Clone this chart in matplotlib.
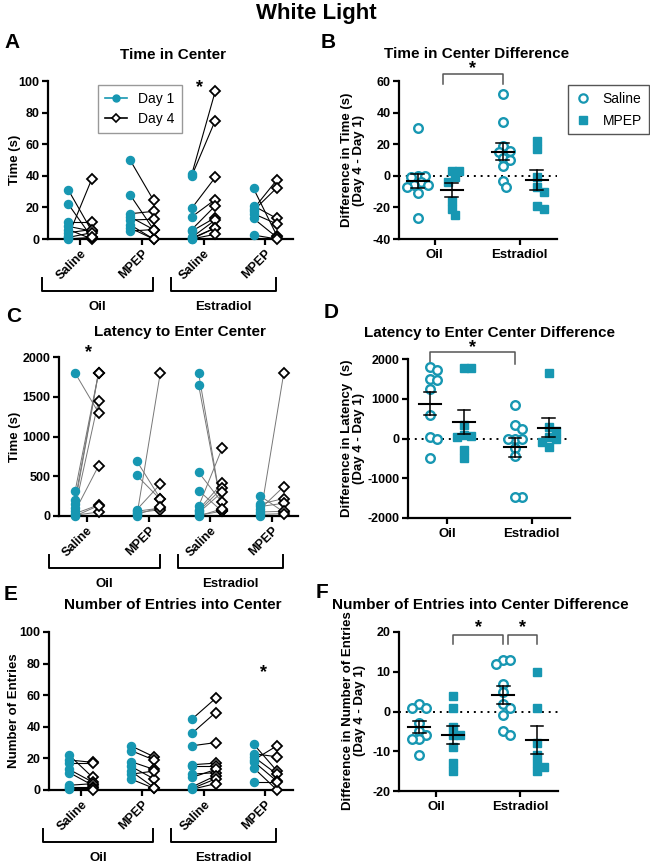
import numpy as np
import matplotlib
matplotlib.use("Agg")
import matplotlib.pyplot as plt
from matplotlib.lines import Line2D

plt.rcParams['font.family'] = ['Liberation Sans', 'DejaVu Sans']
plt.rcParams['font.weight'] = 'bold'
plt.rcParams['axes.labelweight'] = 'bold'
plt.rcParams['axes.unicode_minus'] = False

TEAL = '#1797b2'
W, H = 650, 864

group_labels = ['Saline', 'MPEP', 'Saline', 'MPEP']
hormones = ['Oil', 'Estradiol']
drugs = ['Saline', 'MPEP']

# A: time in center (s); groups = Oil-Saline, Oil-MPEP, E2-Saline, E2-MPEP
time_day1 = [[31, 22, 11, 8, 6, 4, 2, 1, 0.5, 0],
             [50, 28, 16, 14, 12, 9, 7, 5],
             [41, 40, 19.5, 14, 6, 5, 1, 0.5, 0, 0],
             [32, 21, 19, 18, 16, 13, 2.5]]
time_day4 = [[5, 1, 11, 5, 0, 6, 38, 4, 0.5, 1],
             [24.5, 6, 17.5, 6, 12.5, 0, 0, 6],
             [93.5, 75, 39, 25, 21, 13.5, 12, 7, 7, 3],
             [2, 13, 37.5, 32.5, 9.5, 1, 0]]

# B: time difference (Day 4 - Day 1); [hormone][drug]
time_diff = [[[30, 0, 0, -1, -4, -6, -6, -7, -11, -27],
              [3, 3, -1, -4, -16, -21, -25]],
             [[52, 34, 19, 16, 15, 11, 10, 6, -3, -7],
              [22, 17, -1, -10, -7, -19, -21]]]

# C: latency to enter center (s)
lat_day1 = [[1800, 310, 200, 150, 100, 60, 30, 10, 0],
            [690, 510, 80, 60, 40, 20, 0],
            [1800, 1650, 550, 320, 120, 80, 60, 40, 10, 0],
            [250, 150, 120, 90, 50, 20, 0]]
lat_day4 = [[1300, 1800, 1800, 1800, 1450, 630, 140, 50, 130],
            [220, 210, 400, 100, 80, 110, 1800],
            [70, 80, 170, 60, 850, 410, 350, 300, 60, 90],
            [50, 220, 160, 370, 60, 30, 1800]]

# D: latency difference
lat_diff = [[[1800, 1720, 1500, 1470, 1250, 600, 30, 0, -500],
             [1780, 1780, 350, 80, 60, 50, -300, -480]],
            [[850, 330, 250, 0, -10, 0, -250, -450, -1480, -1470],
             [1650, 300, 200, 50, 0, -80, -220]]]

# E: number of entries into center
ent_day1 = [[22, 19, 17, 13, 11, 3, 2, 1, 0.5],
            [28, 25, 18, 15, 12, 10, 7],
            [45, 36, 28, 16, 15, 10, 8, 2, 1, 0.5],
            [29, 23, 21, 19, 18, 14, 5]]
ent_day4 = [[8, 17.5, 17, 5, 3, 4, 2, 1, 0],
            [21, 19, 13, 7, 1.5, 12, 1],
            [58, 49, 30, 17, 15, 11, 13, 9, 7, 4],
            [12, 21, 10, 28, 5.5, 0, 5]]

# F: entries difference
ent_diff = [[[2, 1, 1, -3, -5, -6, -7, -7, -11],
             [4, 1, -4, -6, -6, -9, -13, -15]],
            [[13, 13, 12, 7, 5, 2, 1, -1, -5, -6],
             [10, 1, -8, -11, -13, -15, -14]]]

fig = plt.figure(figsize=(W / 100, H / 100), dpi=100)


def px_axes(l, r, t, b):
    return fig.add_axes([l / W, 1 - b / H, (r - l) / W, (b - t) / H])


def style(ax):
    for s in ['top', 'right']:
        ax.spines[s].set_visible(False)
    for s in ['left', 'bottom']:
        ax.spines[s].set_linewidth(1.6)
    ax.tick_params(width=1.6, length=4, labelsize=9, pad=2)
    for lab in ax.get_yticklabels():
        lab.set_fontweight('bold')


def ftext(x, y, s, size, **kw):
    fig.text(x / W, 1 - y / H, s, fontsize=size, fontweight='bold',
             ha='center', va='center', **kw)


def paired(ax, d1, d4, ylim, yticks, line_col, line_w, xlim):
    off = 0.19
    for i in range(4):
        for a, b in zip(d1[i], d4[i]):
            ax.plot([i - off, i + off], [a, b], color=line_col, lw=line_w, zorder=2)
        ax.plot([i - off] * len(d1[i]), d1[i], 'o', ms=5.8, color=TEAL,
                mec=TEAL, clip_on=False, zorder=3)
        ax.plot([i + off] * len(d4[i]), d4[i], 'D', ms=4.6, mfc='white',
                mec='black', mew=1.3, clip_on=False, zorder=4)
    ax.set_ylim(*ylim)
    ax.set_yticks(yticks)
    ax.set_xlim(*xlim)
    ax.set_xticks(range(4))
    ax.set_xticklabels(group_labels, rotation=45, ha='right',
                       rotation_mode='anchor', fontsize=9, fontweight='bold')
    ax.spines['left'].set_bounds(ylim[0], ylim[1])
    style(ax)
    # brackets under the groups
    hpx = ax.get_position().height * H
    tr = ax.get_xaxis_transform()
    for (x0, x1), name in zip([(-0.62, 1.18), (1.47, 3.17)], hormones):
        y0, y1 = -39 / hpx, -52 / hpx
        ax.plot([x0, x0, x1, x1], [y0, y1, y1, y0], color='black', lw=1.4,
                transform=tr, clip_on=False)
        ax.text((x0 + x1) / 2, -68 / hpx, name, transform=tr, ha='center',
                va='center', fontsize=9.5, fontweight='bold')


def swarm_x(vals, center, xpu, ypu, d=7.0):
    vals = np.asarray(vals, float)
    xs = np.zeros(len(vals))
    placed = []
    for i in np.argsort(-vals):
        y = vals[i] * ypu
        for k in [0, 1, -1, 2, -2, 3, -3, 4, -4]:
            x = k * d * 0.5
            if all((x - px) ** 2 + (y - py) ** 2 >= (d * 0.95) ** 2 for px, py in placed):
                break
        placed.append((x, y))
        xs[i] = center + x / xpu
    return xs


def diff(ax, data, ylim, yticks, xlim):
    ax.set_xlim(*xlim)
    ax.set_ylim(*ylim)
    pos = ax.get_position()
    xpu = pos.width * W / (xlim[1] - xlim[0])
    ypu = pos.height * H / (ylim[1] - ylim[0])
    ax.axhline(0, color='black', ls=(0, (1, 2.5)), lw=1.4, zorder=1)
    off = 0.2
    for h in range(2):
        for d in range(2):
            v = np.asarray(data[h][d], float)
            c = h + (-off if d == 0 else off)
            xs = swarm_x(v, c, xpu, ypu)
            if d == 0:
                ax.plot(xs, v, 'o', ms=6.2, mfc='white', mec=TEAL, mew=1.7,
                        clip_on=False, zorder=3)
            else:
                ax.plot(xs, v, 's', ms=5.8, color=TEAL, clip_on=False, zorder=3)
            m = v.mean()
            se = v.std(ddof=1) / np.sqrt(len(v))
            ax.plot([c - 0.13, c + 0.13], [m, m], color='black', lw=1.5, zorder=5)
            ax.plot([c, c], [m - se, m + se], color='black', lw=1.1, zorder=5)
            for yy in (m - se, m + se):
                ax.plot([c - 0.075, c + 0.075], [yy, yy], color='black', lw=1.1, zorder=5)
    ax.set_yticks(yticks)
    ax.set_xticks([0, 1])
    ax.set_xticklabels(hormones, fontsize=9.5, fontweight='bold')
    style(ax)
    ax.tick_params(axis='x', labelsize=9.5, pad=3)


def bracket(ax, x0, x1, ytop, ybot, star_y):
    ax.plot([x0, x0, x1, x1], [ybot, ytop, ytop, ybot], color='#555555', lw=1.1,
            clip_on=False)
    ax.text((x0 + x1) / 2, star_y, '*', ha='center', va='center', fontsize=13,
            fontweight='bold', clip_on=False)


# ---- A ----
axA = px_axes(48, 293, 81, 239)
paired(axA, time_day1, time_day4, (0, 100), range(0, 101, 20), 'black', 0.8, (-0.52, 3.45))
axA.text(2 - 0.07, 96, '*', ha='center', va='center', fontsize=13, fontweight='bold')
leg_handles = [Line2D([], [], color=TEAL, marker='o', ms=5, lw=1.2),
               Line2D([], [], color='black', marker='D', ms=4.5, mfc='white',
                      mec='black', mew=1.2, lw=1.2)]
legA = axA.legend(leg_handles, ['Day 1', 'Day 4'], loc='upper left',
                  bbox_to_anchor=(91 / W, 1 - 78 / H), bbox_transform=fig.transFigure,
                  fancybox=False, edgecolor='#999999', framealpha=1,
                  prop={'size': 10, 'weight': 'normal'}, handlelength=1.6,
                  borderpad=0.5, labelspacing=0.45)
legA.get_frame().set_linewidth(1.0)

# ---- B ----
axB = px_axes(399, 557, 81, 239)
diff(axB, time_diff, (-40, 60), range(-40, 61, 20), (-0.42, 1.44))
bracket(axB, 0.1, 0.8, 64.6, 58, 68)
legB = axB.legend([Line2D([], [], ls='none', marker='o', ms=6, mfc='white', mec=TEAL, mew=1.6),
                   Line2D([], [], ls='none', marker='s', ms=5.5, color=TEAL)],
                  ['Saline', 'MPEP'], loc='upper left',
                  bbox_to_anchor=(561 / W, 1 - 78 / H), bbox_transform=fig.transFigure,
                  fancybox=False, edgecolor='#555555', framealpha=1,
                  prop={'size': 10, 'weight': 'normal'}, handlelength=1.2,
                  borderpad=0.5, labelspacing=0.55)
legB.get_frame().set_linewidth(1.0)

# ---- C ----
axC = px_axes(59, 298, 357, 516)
paired(axC, lat_day1, lat_day4, (0, 2000), range(0, 2001, 500), '#777777', 0.7, (-0.45, 3.42))
axC.text(0.02, 2060, '*', ha='center', va='center', fontsize=13, fontweight='bold',
         clip_on=False)

# ---- D ----
axD = px_axes(408, 570, 359, 518)
diff(axD, lat_diff, (-2000, 2000), range(-2000, 2001, 1000), (-0.46, 1.45))
bracket(axD, -0.2, 0.8, 2184, 1874, 2290)

# ---- E ----
axE = px_axes(49, 293, 632, 790)
paired(axE, ent_day1, ent_day4, (0, 100), range(0, 101, 20), 'black', 0.8, (-0.52, 3.45))
axE.text(2.97, 74, '*', ha='center', va='center', fontsize=13, fontweight='bold')

# ---- F ----
axF = px_axes(399, 558, 632, 791)
diff(axF, ent_diff, (-20, 20), range(-20, 21, 10), (-0.44, 1.45))
bracket(axF, 0.2, 0.8, 19.2, 17, 21.0)
bracket(axF, 0.85, 1.2, 19.2, 17, 21.0)

# ---- titles, letters, y labels ----
ftext(316, 13, 'White Light', 16)
for (x, y, s) in [(173, 55, 'Time in Center'), (477, 54, 'Time in Center Difference'),
                  (180, 332, 'Latency to Enter Center'),
                  (490, 333, 'Latency to Enter Center Difference'),
                  (173, 605, 'Number of Entries into Center'),
                  (480, 605, 'Number of Entries into Center Difference')]:
    ftext(x, y, s, 11)
for (x, y, s) in [(12, 43, 'A'), (328, 43, 'B'), (14, 316, 'C'), (331, 312, 'D'),
                  (11, 594, 'E'), (322, 592, 'F')]:
    ftext(x, y, s, 15)
ftext(15, 160, 'Time (s)', 9.5, rotation=90)
ftext(15, 437, 'Time (s)', 9.5, rotation=90)
ftext(14, 711, 'Number of Entries', 9.5, rotation=90)
ftext(353, 160, 'Difference in Time (s)\n(Day 4 - Day 1)', 9.5, rotation=90, linespacing=1.1)
ftext(353, 438, 'Difference in Latency  (s)\n(Day 4 - Day 1)', 9.5, rotation=90, linespacing=1.1)
ftext(354, 711, 'Difference in Number of Entries\n(Day 4 - Day 1)', 9.5, rotation=90, linespacing=1.1)

fig.savefig('out.png', dpi=100)
